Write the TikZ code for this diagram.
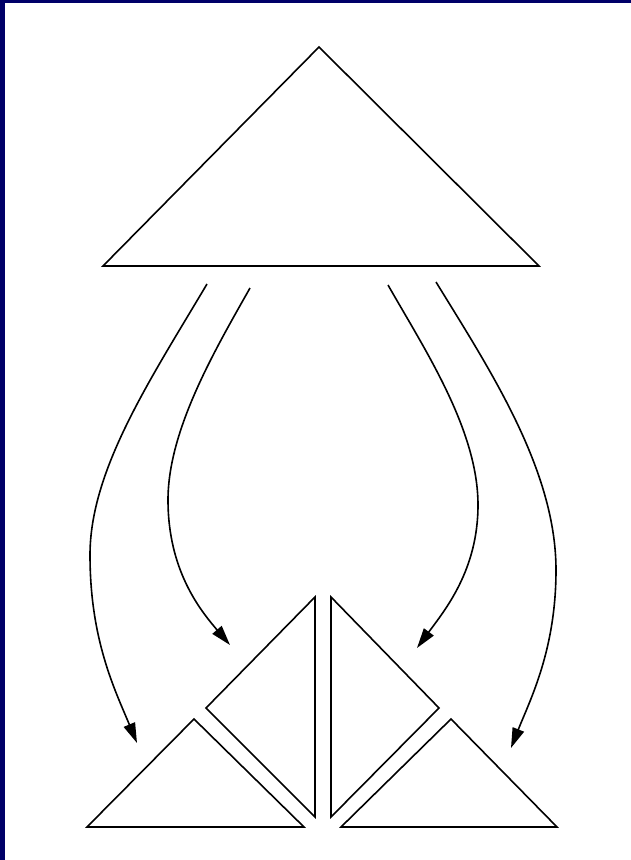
\documentclass[tikz,border=0pt]{standalone}
\usetikzlibrary{arrows.meta}
\definecolor{framenavy}{RGB}{0,0,104}
\begin{document}
\begin{tikzpicture}[x=1pt,y=-1pt,
  tri/.style={draw=black,line width=1.6pt,line join=miter},
  link/.style={draw=black,line width=1.6pt,-{Triangle[length=20pt,width=12pt]}}]
\useasboundingbox (0,0) rectangle (631,860);
\fill[white] (0,0) rectangle (631,860);
\fill[framenavy] (0,0) rectangle (5,860);
\fill[framenavy] (0,0) rectangle (631,3);
% big triangle
\coordinate (A1) at (319,47);
\coordinate (A2) at (103,266);
\coordinate (A3) at (539,266);
\draw[tri] (A1) -- (A2) -- (A3) -- cycle;
% middle left triangle
\coordinate (L1) at (315,597);
\coordinate (L2) at (206,708);
\coordinate (L3) at (315,817);
\draw[tri] (L1) -- (L2) -- (L3) -- cycle;
% middle right triangle
\coordinate (R1) at (331,597);
\coordinate (R2) at (439,708);
\coordinate (R3) at (331,817);
\draw[tri] (R1) -- (R2) -- (R3) -- cycle;
% bottom left triangle
\coordinate (BL1) at (194,719);
\coordinate (BL2) at (87,827);
\coordinate (BL3) at (304,827);
\draw[tri] (BL1) -- (BL2) -- (BL3) -- cycle;
% bottom right triangle
\coordinate (BR1) at (451,719);
\coordinate (BR2) at (341,827);
\coordinate (BR3) at (557,827);
\draw[tri] (BR1) -- (BR2) -- (BR3) -- cycle;
% arrow endpoints
\coordinate (s1) at (207,284);
\coordinate (m1) at (90,555);
\coordinate (e1) at (137,743);
\coordinate (s2) at (250,288);
\coordinate (m2) at (168,500);
\coordinate (e2) at (230,645);
\coordinate (s3) at (388,285);
\coordinate (m3) at (478,505);
\coordinate (e3) at (417,648);
\coordinate (s4) at (436,282);
\coordinate (m4) at (556,570);
\coordinate (e4) at (511,748);
\draw[link] (s1) .. controls (150,380) and (90,470) .. (m1) .. controls (90,640) and (115,690) .. (e1);
\draw[link] (s2) .. controls (215,350) and (168,430) .. (m2) .. controls (168,570) and (200,610) .. (e2);
\draw[link] (s3) .. controls (425,350) and (478,430) .. (m3) .. controls (478,570) and (445,610) .. (e3);
\draw[link] (s4) .. controls (490,370) and (556,470) .. (m4) .. controls (556,650) and (530,700) .. (e4);
\end{tikzpicture}
\end{document}
